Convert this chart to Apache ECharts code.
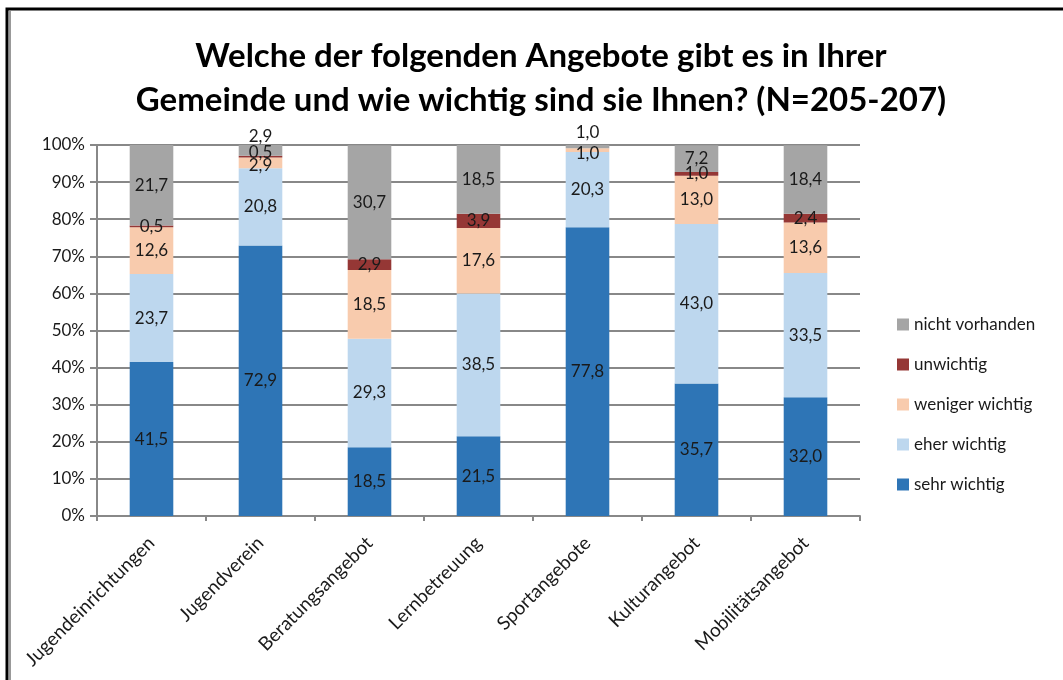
<!DOCTYPE html>
<html>
<head>
<meta charset="utf-8">
<script src="https://cdn.jsdelivr.net/npm/echarts@6/dist/echarts.min.js"></script>
<style>
html,body{margin:0;padding:0;background:#fff;}
#chart{width:1063px;height:680px;}
</style>
</head>
<body>
<div id="chart"></div>
<script>
var categories = ['Jugendeinrichtungen','Jugendverein','Beratungsangebot','Lernbetreuung','Sportangebote','Kulturangebot','Mobilitätsangebot'];
var sehrWichtig    = [41.5, 72.9, 18.5, 21.5, 77.8, 35.7, 32.0];
var eherWichtig    = [23.7, 20.8, 29.3, 38.5, 20.3, 43.0, 33.5];
var wenigerWichtig = [12.6, 2.9, 18.5, 17.6, 1.0, 13.0, 13.6];
var unwichtig      = [0.5, 0.5, 2.9, 3.9, 0, 1.0, 2.4];
var nichtVorhanden = [21.7, 2.9, 30.7, 18.5, 1.0, 7.2, 18.4];
var yTicks = ['0%','10%','20%','30%','40%','50%','60%','70%','80%','90%','100%'];

// verschobene Beschriftungen bei sehr kleinen Segmenten (Index -> [dx, dy])
var shiftNicht = {1: [0, -14], 4: [0, -14]};
var shiftUnw = {1: [0, -4]};
var shiftWeniger = {1: [0, 3], 4: [0, 3]};

var font = 'Lato, "Open Sans", sans-serif';

function mkData(arr, shift){
    var out = [];
    for(var i = 0;i < arr.length;i++){
        var d = {value: arr[i]};
        if(arr[i] === 0){
            d.label = {show: false};
        }else if(shift && shift[i]){
            d.label = {offset: shift[i]};
        }
        out.push(d);
    }
    return out;
}

function mkSeries(name, arr, color, shift){
    return {
        name: name,
        type: 'bar',
        stack: 'total',
        barWidth: '40%',
        itemStyle: {color: color},
        label: {
            show: true,
            position: 'inside',
            color: '#1a1a1a',
            fontSize: 17,
            fontFamily: font,
            formatter: function(p){ return p.value.toFixed(1).replace('.', ','); }
        },
        data: mkData(arr, shift)
    };
}

var option = {
    animation: false,
    title: {
        text: 'Welche der folgenden Angebote gibt es in Ihrer\nGemeinde und wie wichtig sind sie Ihnen? (N=205-207)',
        left: 536,
        top: 29,
        textAlign: 'center',
        textStyle: {
            fontFamily: font,
            fontSize: 33,
            fontWeight: 'bold',
            color: '#000',
            lineHeight: 44
        }
    },
    graphic: [{
        type: 'polyline',
        shape: {points: [[7, 690], [7, 9], [1070, 9]]},
        style: {stroke: '#000', lineWidth: 3, fill: null}
    },{
        type: 'line',
        shape: {x1: 10, y1: 11, x2: 10, y2: 690},
        style: {stroke: '#999', lineWidth: 2}
    }],
    legend: {
        orient: 'vertical',
        left: 892,
        top: 311,
        itemGap: 23,
        itemWidth: 12,
        itemHeight: 12,
        icon: 'rect',
        textStyle: {fontFamily: font, fontSize: 17, color: '#1a1a1a'},
        data: ['nicht vorhanden','unwichtig','weniger wichtig','eher wichtig','sehr wichtig']
    },
    grid: {
        left: 97,
        right: 203,
        top: 145,
        bottom: 164
    },
    xAxis: {
        type: 'category',
        data: categories,
        axisLine: {lineStyle: {color: '#888', width: 2}},
        axisTick: {show: true, length: 5, lineStyle: {color: '#888', width: 2}},
        axisLabel: {
            rotate: 45,
            interval: 0,
            margin: 24,
            fontFamily: font,
            fontSize: 19,
            color: '#1a1a1a'
        }
    },
    yAxis: {
        type: 'value',
        min: 0,
        max: 100,
        interval: 10,
        axisLine: {show: true, lineStyle: {color: '#888', width: 2}},
        axisTick: {show: true, length: 7, lineStyle: {color: '#888', width: 2}},
        splitLine: {lineStyle: {color: '#888', width: 2}},
        axisLabel: {
            margin: 12,
            fontFamily: font,
            fontSize: 17,
            color: '#1a1a1a',
            formatter: function(v){ return yTicks[Math.round(v / 10)]; }
        }
    },
    series: [
        mkSeries('sehr wichtig', sehrWichtig, '#2e75b6'),
        mkSeries('eher wichtig', eherWichtig, '#bdd7ee'),
        mkSeries('weniger wichtig', wenigerWichtig, '#f8cbad', shiftWeniger),
        mkSeries('unwichtig', unwichtig, '#953735', shiftUnw),
        mkSeries('nicht vorhanden', nichtVorhanden, '#a5a5a5', shiftNicht)
    ]
};

var chart = echarts.init(document.getElementById('chart'));
chart.setOption(option, true);
</script>
</body>
</html>
